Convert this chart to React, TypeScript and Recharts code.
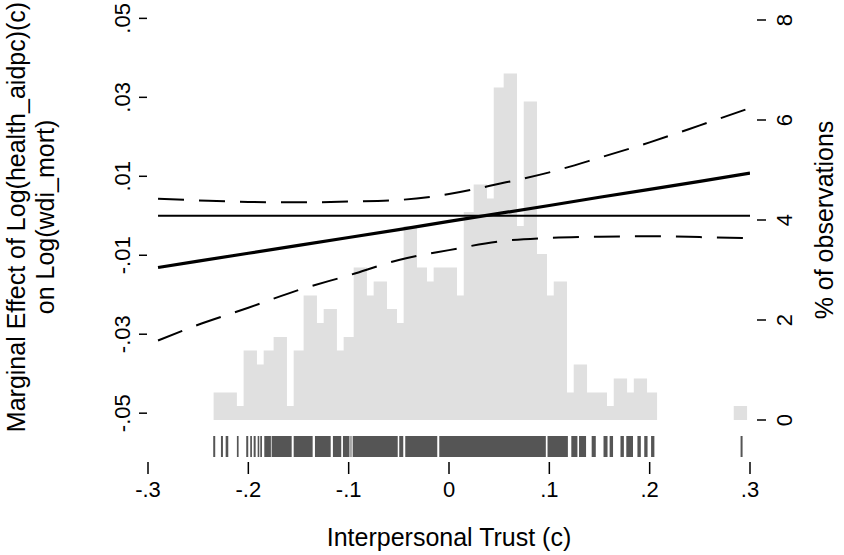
import {
  ComposedChart,
  Area,
  Line,
  XAxis,
  YAxis,
  ReferenceArea,
} from 'recharts';

// Interpersonal trust grid for the marginal-effect curve
const effectX = [-0.29, -0.25, -0.2, -0.15, -0.1, -0.05, 0, 0.05, 0.1, 0.15, 0.2, 0.25, 0.3];
const effect = [-0.0131, -0.0115, -0.0095, -0.0075, -0.0055, -0.0035, -0.0014, 0.0006, 0.0026, 0.0047, 0.0067, 0.0087, 0.0108];
const ciUpper = [0.0043, 0.0039, 0.0035, 0.0034, 0.0036, 0.004, 0.0055, 0.0081, 0.011, 0.0147, 0.0186, 0.0229, 0.0273];
const ciLower = [-0.0316, -0.0276, -0.0233, -0.0188, -0.0151, -0.0112, -0.0087, -0.0065, -0.0056, -0.0053, -0.0052, -0.0054, -0.0057];

// Histogram of the moderator: bar edges and % of observations per bar
const histEdges = [
  -0.2346, -0.2114, -0.2047, -0.1914, -0.1847, -0.1748, -0.1615, -0.1548, -0.1449, -0.1316, -0.1249,
  -0.1117, -0.105, -0.095, -0.0818, -0.0751, -0.0618, -0.0518, -0.0452, -0.0319, -0.0219, -0.0153,
  0.008, 0.0147, 0.0246, 0.0379, 0.0446, 0.0545, 0.0678, 0.0745, 0.0877, 0.0977, 0.1044, 0.1176,
  0.1243, 0.1376, 0.1575, 0.1642, 0.1775, 0.1842, 0.1974, 0.2074, 0.2838, 0.2971,
];
const histPct = [
  0.55, 0.28, 1.39, 1.11, 1.39, 1.66, 0.28, 1.39, 2.49, 1.94, 2.22, 1.39, 1.66, 3.05, 2.49, 2.77,
  2.22, 1.94, 3.88, 3.05, 2.77, 3.05, 2.49, 4.16, 4.71, 4.43, 6.65, 6.93, 3.88, 6.37, 3.32, 2.49,
  2.77, 0.55, 1.11, 0.55, 0.28, 0.83, 0.55, 0.83, 0.55, 0, 0.28,
];

// Rug: stretches of the x axis covered by observation ticks
const rugSpans: [number, number][] = [
  [-0.235, -0.233], [-0.2273, -0.2253], [-0.2226, -0.22], [-0.2114, -0.2097], [-0.2021, -0.2001],
  [-0.1981, -0.1964], [-0.1947, -0.1927], [-0.1907, -0.1891], [-0.1881, -0.1864], [-0.1841, -0.1775],
  [-0.1768, -0.1568], [-0.1548, -0.1359], [-0.1336, -0.1179], [-0.1157, -0.1074], [-0.1057, -0.0992],
  [-0.0982, -0.0972], [-0.096, -0.0511], [-0.0496, -0.0456], [-0.0436, -0.0117], [-0.0097, 0.0965],
  [0.0982, 0.1185], [0.1219, 0.128], [0.1296, 0.1366], [0.1422, 0.1463], [0.154, 0.158],
  [0.1601, 0.1635], [0.1709, 0.1743], [0.1767, 0.1834], [0.1878, 0.1912], [0.1946, 0.1979],
  [0.2014, 0.2047], [0.2906, 0.2926],
];

const xTicks = [-0.3, -0.2, -0.1, 0, 0.1, 0.2, 0.3];
const xTickLabels = ['-.3', '-.2', '-.1', '0', '.1', '.2', '.3'];
const leftTicks = [-0.05, -0.03, -0.01, 0.01, 0.03, 0.05];
const leftTickLabels = ['-.05', '-.03', '-.01', '.01', '.03', '.05'];
const rightTicks = [0, 2, 4, 6, 8];
const rightTickLabels = ['0', '2', '4', '6', '8'];

const effectData = effectX.map((x, i) => ({
  x,
  effect: effect[i],
  upper: ciUpper[i],
  lower: ciLower[i],
}));
const zeroData = [
  { x: effectX[0], zero: 0 },
  { x: effectX[effectX.length - 1], zero: 0 },
];
const histData = histEdges.map((x, i) => ({ x, pct: i < histPct.length ? histPct[i] : 0 }));

const FONT = '"Liberation Sans", Arial, Helvetica, sans-serif';

const labelFor = (ticks: number[], labels: string[], v: number) => {
  const i = ticks.findIndex((t) => Math.abs(t - v) < 1e-9);
  return i >= 0 ? labels[i] : String(v);
};

const XTick = ({ x, y, payload }: any) => (
  <g>
    <line x1={x} x2={x} y1={y + 5} y2={y + 17} stroke="#000" strokeWidth={1.5} />
    <text x={x} y={y + 40} textAnchor="middle" fontSize={22} fill="#000" fontFamily={FONT}>
      {labelFor(xTicks, xTickLabels, payload.value)}
    </text>
  </g>
);

const LeftTick = ({ x, y, payload }: any) => (
  <g>
    <line x1={x - 9} x2={x - 1} y1={y} y2={y} stroke="#000" strokeWidth={1.5} />
    <text
      x={x - 18}
      y={y}
      transform={`rotate(-90 ${x - 18} ${y})`}
      textAnchor="middle"
      fontSize={22}
      fill="#000"
      fontFamily={FONT}
    >
      {labelFor(leftTicks, leftTickLabels, payload.value)}
    </text>
  </g>
);

const RightTick = ({ x, y, payload }: any) => (
  <g>
    <line x1={x + 7} x2={x + 16} y1={y} y2={y} stroke="#000" strokeWidth={1.5} />
    <text
      x={x + 42}
      y={y}
      transform={`rotate(-90 ${x + 42} ${y})`}
      textAnchor="middle"
      fontSize={22}
      fill="#000"
      fontFamily={FONT}
    >
      {labelFor(rightTicks, rightTickLabels, payload.value)}
    </text>
  </g>
);

const App = () => {
  return (
    <div style={{ position: 'relative', width: 844, height: 555, background: '#fff', fontFamily: FONT }}>
      <style>{'body{margin:0;background:#fff;}'}</style>
      <ComposedChart width={844} height={555} margin={{ top: 16, right: 0, bottom: 0, left: 0 }}>
        <XAxis
          type="number"
          dataKey="x"
          domain={[-0.3, 0.3]}
          ticks={xTicks}
          interval={0}
          allowDataOverflow
          axisLine={false}
          tickLine={false}
          tickSize={0}
          tickMargin={0}
          height={98}
          tick={<XTick />}
        />
        <YAxis
          yAxisId="me"
          type="number"
          domain={[-0.0611, 0.0506]}
          ticks={leftTicks}
          interval={0}
          allowDataOverflow
          axisLine={false}
          tickLine={false}
          tickSize={0}
          tickMargin={0}
          width={148}
          tick={<LeftTick />}
        />
        <YAxis
          yAxisId="pct"
          orientation="right"
          type="number"
          domain={[-0.74, 8.08]}
          ticks={rightTicks}
          interval={0}
          allowDataOverflow
          axisLine={false}
          tickLine={false}
          tickSize={0}
          tickMargin={0}
          width={94}
          tick={<RightTick />}
        />
        <Area
          yAxisId="pct"
          data={histData}
          dataKey="pct"
          type="stepAfter"
          baseValue={0}
          fill="#e0e0e0"
          fillOpacity={1}
          stroke="none"
          isAnimationActive={false}
        />
        {rugSpans.map(([a, b], i) => (
          <ReferenceArea
            key={i}
            yAxisId="pct"
            x1={a}
            x2={b}
            y1={-0.74}
            y2={-0.32}
            fill="#555555"
            fillOpacity={1}
            stroke="none"
          />
        ))}
        <Line
          yAxisId="me"
          data={zeroData}
          dataKey="zero"
          type="linear"
          stroke="#000"
          strokeWidth={1.8}
          dot={false}
          isAnimationActive={false}
        />
        <Line
          yAxisId="me"
          data={effectData}
          dataKey="upper"
          type="monotone"
          stroke="#000"
          strokeWidth={2}
          strokeDasharray="26 15"
          dot={false}
          isAnimationActive={false}
        />
        <Line
          yAxisId="me"
          data={effectData}
          dataKey="lower"
          type="monotone"
          stroke="#000"
          strokeWidth={2}
          strokeDasharray="26 15"
          dot={false}
          isAnimationActive={false}
        />
        <Line
          yAxisId="me"
          data={effectData}
          dataKey="effect"
          type="linear"
          stroke="#000"
          strokeWidth={3.2}
          dot={false}
          isAnimationActive={false}
        />
      </ComposedChart>
      <svg
        width={844}
        height={555}
        style={{ position: 'absolute', left: 0, top: 0, pointerEvents: 'none' }}
      >
        <text
          transform="translate(25 217) rotate(-90)"
          textAnchor="middle"
          fontSize={25}
          fill="#000"
          fontFamily={FONT}
        >
          Marginal Effect of Log(health_aidpc)(c)
        </text>
        <text
          transform="translate(54 217) rotate(-90)"
          textAnchor="middle"
          fontSize={25}
          fill="#000"
          fontFamily={FONT}
        >
          on Log(wdi_mort)
        </text>
        <text x={449} y={546} textAnchor="middle" fontSize={25} fill="#000" fontFamily={FONT}>
          Interpersonal Trust (c)
        </text>
        <text
          transform="translate(833 220) rotate(-90)"
          textAnchor="middle"
          fontSize={25}
          fill="#000"
          fontFamily={FONT}
        >
          % of observations
        </text>
      </svg>
    </div>
  );
};

export default App;
